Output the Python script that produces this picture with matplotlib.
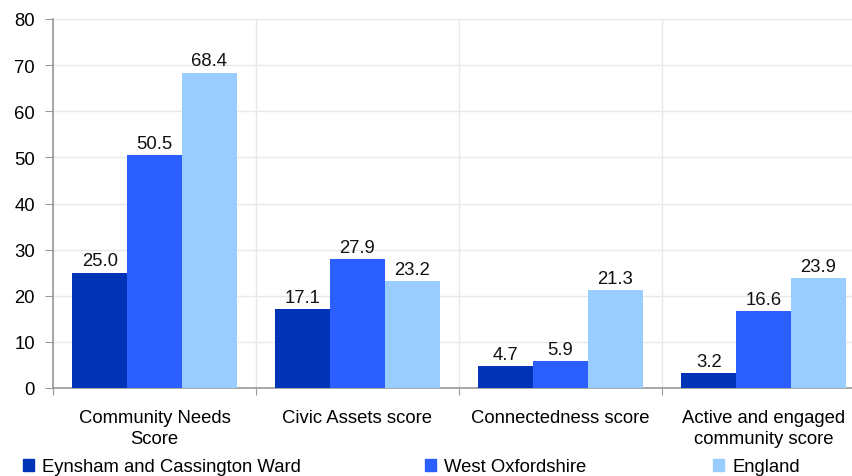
import matplotlib
matplotlib.use("Agg")
import matplotlib.pyplot as plt
from matplotlib.patches import Rectangle
import numpy as np

categories = ["Community Needs\nScore", "Civic Assets score", "Connectedness score",
              "Active and engaged\ncommunity score"]
series_names = ["Eynsham and Cassington Ward", "West Oxfordshire", "England"]
ward = [25.0, 17.1, 4.7, 3.2]
district = [50.5, 27.9, 5.9, 16.6]
england = [68.4, 23.2, 21.3, 23.9]
colors = ["#0033B6", "#2B5FFF", "#99CCFF"]
yticks = [0, 10, 20, 30, 40, 50, 60, 70, 80]

plt.rcParams['font.family'] = ['Liberation Sans', 'DejaVu Sans']
FS = 13.3
W, H = 853, 477
fig = plt.figure(figsize=(W / 100, H / 100), dpi=100)
left, right, top, bottom = 53, 865, 20, 389
ax = fig.add_axes([left / W, 1 - bottom / H, (right - left) / W, (bottom - top) / H])

x = np.arange(len(categories))
bw = 0.27
for i, (vals, c) in enumerate(zip([ward, district, england], colors)):
    pos = x + (i - 1) * bw
    ax.bar(pos, vals, width=bw, color=c, zorder=3, label=series_names[i])
    for p, v in zip(pos, vals):
        ax.annotate(f"{v:.1f}", (p, v), xytext=(0, 2.3), textcoords="offset points",
                    ha="center", va="bottom", fontsize=FS, color="#111111")

ax.set_xlim(-0.5, len(categories) - 0.5)
ax.set_ylim(0, 80)
ax.set_yticks(yticks)
ax.set_yticklabels([str(t) for t in yticks], fontsize=FS)
ax.set_xticks(np.arange(len(categories) + 1) - 0.5)
ax.set_xticklabels([])
ax.set_xticks(x, minor=True)
ax.set_xticklabels(categories, minor=True, fontsize=FS, linespacing=1.3)
ax.tick_params(axis='x', which='minor', length=0, pad=15)
ax.tick_params(axis='x', which='major', length=5, color="#999999", direction='out')
ax.tick_params(axis='y', length=6, color="#999999", pad=7)

for s in ["top", "right"]:
    ax.spines[s].set_visible(False)
for s in ["left", "bottom"]:
    ax.spines[s].set_color("#999999")
    ax.spines[s].set_linewidth(1.2)
ax.grid(True, which='major', color="#e8e8e8", linewidth=1, zorder=0)
ax.set_axisbelow(True)

legend_x = [23, 425, 713]
for name, c, lx in zip(series_names, colors, legend_x):
    h = Rectangle((0, 0), 1, 1, color=c)
    fig.legend([h], [name], loc="center left", bbox_to_anchor=(lx / W, 1 - 468 / H),
               frameon=False, fontsize=FS, handlelength=0.6, handleheight=0.6,
               handletextpad=0.43, borderpad=0, borderaxespad=0)

fig.savefig("out.png", dpi=100)
